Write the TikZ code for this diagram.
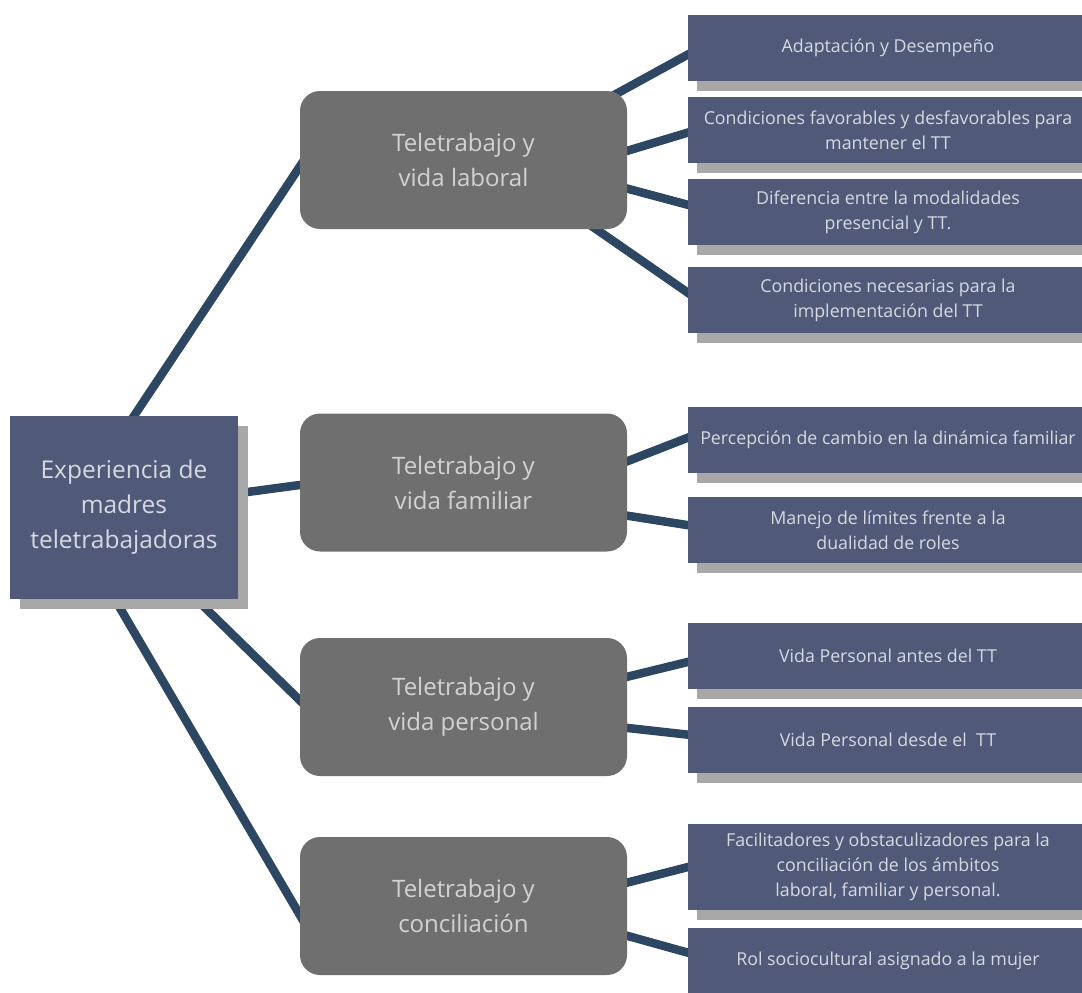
\documentclass[tikz,border=0pt]{standalone}
\usepackage{fontspec}
\setmainfont{Open Sans}
\usetikzlibrary{calc,shadows,backgrounds}
\definecolor{navy}{HTML}{505A78}
\definecolor{midgray}{HTML}{6F6F6F}
\definecolor{shgray}{HTML}{A8A8A8}
\definecolor{linecol}{HTML}{2D4763}
\definecolor{txt}{HTML}{D6D9E2}
\definecolor{txtg}{HTML}{D2D2D2}
\begin{document}
\begin{tikzpicture}[x=1pt,y=-1pt,
  rootbox/.style={fill=navy, minimum width=228pt, minimum height=183pt, inner sep=0pt,
    text=txt, font=\fontsize{24.5}{35}\selectfont, align=center,
    drop shadow={shadow xshift=10pt, shadow yshift=-10pt, opacity=1, fill=shgray}},
  midbox/.style={fill=midgray, rounded corners=20pt, minimum width=327pt, minimum height=138pt,
    inner sep=0pt, text=txtg, font=\fontsize{24}{35}\selectfont, align=center},
  leafbox/.style={fill=navy, minimum width=400pt, minimum height=66pt, inner sep=0pt,
    text=txt, font=\fontsize{17.8}{25}\selectfont, align=center,
    drop shadow={shadow xshift=9pt, shadow yshift=-10pt, opacity=1, fill=shgray}},
  conn/.style={draw=linecol, line width=8.5pt}]
\useasboundingbox (0,0) rectangle (1082,993);
\clip (0,0) rectangle (1082,993);

\node[rootbox] (root) at (124,507) {Experiencia de\\madres\\teletrabajadoras};

\node[midbox] (mid1) at (463.5,160) {Teletrabajo y\\vida laboral};
\node[midbox] (mid2) at (463.5,482.5) {Teletrabajo y\\vida familiar};
\node[midbox] (mid3) at (463.5,707) {Teletrabajo y\\vida personal};
\node[midbox] (mid4) at (463.5,906) {Teletrabajo y\\conciliación};

\node[leafbox] (r1) at (888,48) {Adaptación y Desempeño};
\node[leafbox] (r2) at (888,130) {Condiciones favorables y desfavorables para\\mantener el TT};
\node[leafbox] (r3) at (888,212) {Diferencia entre la modalidades\\presencial y TT.};
\node[leafbox] (r4) at (888,300) {Condiciones necesarias para la\\implementación del TT};
\node[leafbox] (r5) at (888,440) {Percepción de cambio en la dinámica familiar};
\node[leafbox] (r6) at (888,530) {Manejo de límites frente a la\\dualidad de roles};
\node[leafbox] (r7) at (888,656) {Vida Personal antes del TT};
\node[leafbox] (r8) at (888,740) {Vida Personal desde el \ TT};
\node[leafbox, minimum height=86pt] (r9) at (888,867) {Facilitadores y obstaculizadores para la\\conciliación de los ámbitos\\laboral, familiar y personal.};
\node[leafbox] (r10) at (888,961) {Rol sociocultural asignado a la mujer};

\begin{pgfonlayer}{background}
\fill[white] (0,0) rectangle (1082,993);
% root to middle
\draw[conn] ($(root.center)+(-2,-73)$) -- ($(mid1.west)+(11,-10)$);
\draw[conn] ($(root.center)+(101,-12)$) -- ($(mid2.west)+(15,0.5)$);
\draw[conn] ($(root.center)+(66,86)$) -- ($(mid3.west)+(15,8)$);
\draw[conn] ($(root.center)+(-14,84)$) -- ($(mid4.west)+(10,26)$);
% middle to leaves
\draw[conn] ($(mid1.center)+(132.5,-55)$) -- ($(r1.west)+(12,0)$);
\draw[conn] ($(mid1.center)+(146.5,-4)$) -- ($(r2.west)+(12,-1)$);
\draw[conn] ($(mid1.center)+(146.5,24)$) -- ($(r3.west)+(12,-4)$);
\draw[conn] ($(mid1.center)+(116.5,58)$) -- ($(r4.west)+(12,1)$);
\draw[conn] ($(mid2.center)+(146.5,-14.5)$) -- ($(r5.west)+(12,-7)$);
\draw[conn] ($(mid2.center)+(146.5,30.5)$) -- ($(r6.west)+(12,-3)$);
\draw[conn] ($(mid3.center)+(146.5,-26)$) -- ($(r7.west)+(12,3)$);
\draw[conn] ($(mid3.center)+(146.5,19)$) -- ($(r8.west)+(12,-4)$);
\draw[conn] ($(mid4.center)+(146.5,-19)$) -- ($(r9.west)+(12,-3)$);
\draw[conn] ($(mid4.center)+(146.5,25)$) -- ($(r10.west)+(12,-5)$);
\end{pgfonlayer}
\end{tikzpicture}
\end{document}
